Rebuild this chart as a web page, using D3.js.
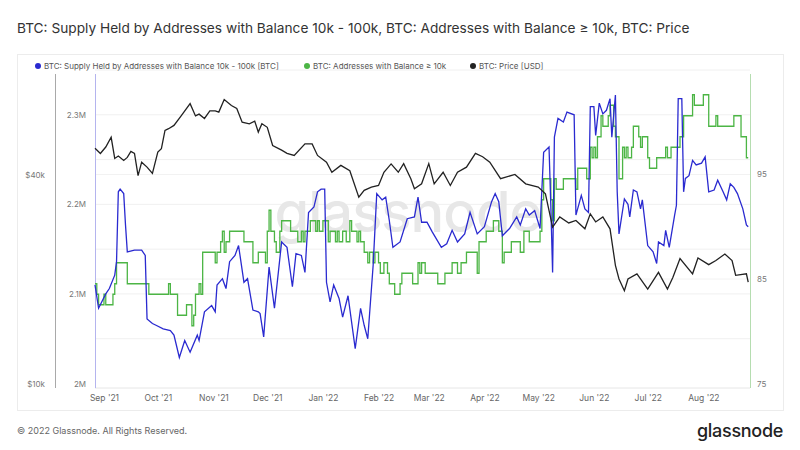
<!DOCTYPE html>
<html>
<head>
<meta charset="utf-8">
<script src="https://cdn.jsdelivr.net/npm/d3@7"></script>
<style>
  body { margin: 0; background: #fff; }
  svg { font-family: Inter, "Noto Sans", sans-serif; }
</style>
</head>
<body>
<div id="chart"></div>
<script>
// BTC price, thousands of USD (left log axis)
const priceDates = ["2021-08-27","2021-08-30","2021-09-02","2021-09-05","2021-09-07","2021-09-09","2021-09-12","2021-09-14","2021-09-16","2021-09-18","2021-09-20","2021-09-22","2021-09-25","2021-09-28","2021-10-01","2021-10-03","2021-10-05","2021-10-07","2021-10-10","2021-10-14","2021-10-19","2021-10-22","2021-10-24","2021-10-27","2021-10-30","2021-11-02","2021-11-04","2021-11-07","2021-11-11","2021-11-14","2021-11-17","2021-11-21","2021-11-24","2021-11-26","2021-11-28","2021-12-01","2021-12-04","2021-12-09","2021-12-12","2021-12-16","2021-12-22","2021-12-26","2021-12-29","2022-01-03","2022-01-06","2022-01-11","2022-01-16","2022-01-21","2022-01-24","2022-01-28","2022-02-01","2022-02-04","2022-02-08","2022-02-12","2022-02-15","2022-02-19","2022-02-21","2022-02-25","2022-03-01","2022-03-04","2022-03-09","2022-03-13","2022-03-17","2022-03-22","2022-03-27","2022-03-31","2022-04-04","2022-04-10","2022-04-18","2022-04-24","2022-05-01","2022-05-05","2022-05-09","2022-05-13","2022-05-18","2022-05-22","2022-05-27","2022-05-30","2022-06-02","2022-06-06","2022-06-10","2022-06-13","2022-06-15","2022-06-18","2022-06-20","2022-06-25","2022-07-01","2022-07-07","2022-07-12","2022-07-15","2022-07-19","2022-07-26","2022-07-29","2022-08-04","2022-08-08","2022-08-13","2022-08-17","2022-08-19","2022-08-25","2022-08-26"];
const priceValues = [47.6,46.0,48.0,51.2,44.5,45.2,43.9,44.8,46.6,46.0,39.7,43.4,42.0,40.3,46.4,47.5,53.6,54.2,55.4,59.0,64.0,59.0,59.7,58.0,61.0,61.0,60.5,65.8,63.2,62.0,56.6,56.0,57.0,53.0,56.0,54.7,48.5,47.0,46.0,45.4,49.0,49.0,45.4,43.4,40.6,42.5,41.0,34.4,36.0,36.8,37.2,40.6,42.9,40.6,43.0,38.9,36.4,37.6,43.0,37.6,40.6,37.2,40.6,42.0,46.0,45.0,43.4,38.9,40.0,37.6,36.8,35.2,28.2,30.2,29.0,29.5,27.9,30.8,29.2,30.2,27.9,21.9,20.0,18.5,20.0,20.7,18.7,20.9,18.7,20.2,22.9,20.7,23.0,22.0,22.6,23.6,22.6,20.5,20.7,19.6];

// supply held by 10k-100k addresses, millions of BTC (inner left axis)
const supplyDates = ["2021-08-27","2021-08-29","2021-09-02","2021-09-04","2021-09-07","2021-09-08","2021-09-09","2021-09-10","2021-09-12","2021-09-13","2021-09-14","2021-09-18","2021-09-22","2021-09-24","2021-09-25","2021-09-28","2021-09-30","2021-10-04","2021-10-08","2021-10-10","2021-10-13","2021-10-16","2021-10-19","2021-10-23","2021-10-24","2021-10-27","2021-10-31","2021-11-02","2021-11-03","2021-11-06","2021-11-08","2021-11-10","2021-11-13","2021-11-15","2021-11-18","2021-11-20","2021-11-23","2021-11-26","2021-11-27","2021-11-29","2021-12-02","2021-12-05","2021-12-09","2021-12-12","2021-12-15","2021-12-17","2021-12-20","2021-12-22","2021-12-24","2021-12-27","2021-12-29","2021-12-31","2022-01-02","2022-01-03","2022-01-05","2022-01-07","2022-01-10","2022-01-12","2022-01-15","2022-01-19","2022-01-22","2022-01-24","2022-01-26","2022-01-29","2022-01-31","2022-02-03","2022-02-05","2022-02-07","2022-02-09","2022-02-13","2022-02-17","2022-02-21","2022-02-23","2022-02-25","2022-02-28","2022-03-03","2022-03-08","2022-03-11","2022-03-14","2022-03-17","2022-03-21","2022-03-24","2022-03-28","2022-04-01","2022-04-05","2022-04-07","2022-04-09","2022-04-11","2022-04-15","2022-04-19","2022-04-21","2022-04-24","2022-04-26","2022-04-29","2022-05-02","2022-05-04","2022-05-07","2022-05-08","2022-05-09","2022-05-10","2022-05-12","2022-05-15","2022-05-17","2022-05-21","2022-05-22","2022-05-25","2022-05-27","2022-05-29","2022-05-30","2022-06-01","2022-06-02","2022-06-04","2022-06-06","2022-06-08","2022-06-10","2022-06-11","2022-06-13","2022-06-14","2022-06-15","2022-06-18","2022-06-20","2022-06-21","2022-06-23","2022-06-25","2022-06-27","2022-06-28","2022-07-01","2022-07-04","2022-07-06","2022-07-07","2022-07-10","2022-07-11","2022-07-13","2022-07-16","2022-07-17","2022-07-18","2022-07-20","2022-07-21","2022-07-22","2022-07-24","2022-07-26","2022-07-28","2022-07-31","2022-08-02","2022-08-04","2022-08-07","2022-08-09","2022-08-12","2022-08-14","2022-08-16","2022-08-18","2022-08-20","2022-08-23","2022-08-25","2022-08-26"];
const supplyValues = [2.110,2.084,2.100,2.106,2.121,2.136,2.214,2.217,2.212,2.177,2.147,2.149,2.149,2.143,2.072,2.067,2.065,2.061,2.059,2.054,2.029,2.048,2.035,2.054,2.048,2.080,2.087,2.080,2.110,2.117,2.106,2.136,2.143,2.154,2.113,2.117,2.082,2.080,2.078,2.052,2.130,2.084,2.158,2.152,2.108,2.145,2.143,2.124,2.191,2.197,2.214,2.217,2.217,2.113,2.091,2.110,2.095,2.074,2.098,2.039,2.084,2.065,2.050,2.132,2.212,2.205,2.208,2.182,2.152,2.158,2.184,2.186,2.208,2.180,2.180,2.169,2.152,2.156,2.171,2.158,2.167,2.191,2.167,2.175,2.203,2.212,2.203,2.165,2.173,2.186,2.177,2.195,2.188,2.193,2.173,2.258,2.264,2.199,2.124,2.275,2.296,2.292,2.303,2.300,2.188,2.210,2.195,2.191,2.309,2.309,2.277,2.313,2.301,2.305,2.318,2.275,2.322,2.214,2.167,2.206,2.200,2.186,2.216,2.214,2.195,2.205,2.154,2.147,2.134,2.158,2.154,2.171,2.152,2.188,2.199,2.318,2.318,2.214,2.229,2.232,2.249,2.244,2.246,2.253,2.214,2.216,2.227,2.214,2.205,2.223,2.219,2.212,2.195,2.177,2.175];

// number of addresses holding >= 10k BTC (right axis), step changes
const addrDates = ["2021-08-27","2021-08-28","2021-08-29","2021-09-01","2021-09-02","2021-09-06","2021-09-07","2021-09-08","2021-09-14","2021-09-26","2021-10-07","2021-10-08","2021-10-12","2021-10-17","2021-10-20","2021-10-21","2021-10-22","2021-10-24","2021-10-25","2021-10-26","2021-11-02","2021-11-03","2021-11-05","2021-11-06","2021-11-07","2021-11-08","2021-11-10","2021-11-18","2021-11-23","2021-11-26","2021-11-30","2021-12-01","2021-12-02","2021-12-03","2021-12-05","2021-12-06","2021-12-08","2021-12-09","2021-12-14","2021-12-18","2021-12-20","2021-12-21","2021-12-22","2021-12-25","2021-12-28","2021-12-29","2021-12-30","2022-01-01","2022-01-04","2022-01-05","2022-01-08","2022-01-09","2022-01-10","2022-01-12","2022-01-14","2022-01-16","2022-01-17","2022-01-20","2022-01-21","2022-01-22","2022-01-24","2022-01-26","2022-01-27","2022-01-29","2022-01-30","2022-02-01","2022-02-02","2022-02-04","2022-02-06","2022-02-07","2022-02-10","2022-02-13","2022-02-14","2022-02-20","2022-02-23","2022-02-24","2022-02-25","2022-02-27","2022-03-06","2022-03-10","2022-03-14","2022-03-17","2022-03-19","2022-03-22","2022-03-28","2022-03-29","2022-04-02","2022-04-06","2022-04-09","2022-04-11","2022-04-12","2022-04-16","2022-04-21","2022-04-23","2022-04-26","2022-05-02","2022-05-03","2022-05-04","2022-05-08","2022-05-09","2022-05-10","2022-05-11","2022-05-15","2022-05-22","2022-05-23","2022-05-28","2022-05-30","2022-05-31","2022-06-01","2022-06-02","2022-06-03","2022-06-05","2022-06-06","2022-06-09","2022-06-10","2022-06-12","2022-06-13","2022-06-15","2022-06-17","2022-06-18","2022-06-19","2022-06-20","2022-06-22","2022-06-23","2022-06-26","2022-06-27","2022-06-28","2022-07-01","2022-07-02","2022-07-06","2022-07-11","2022-07-12","2022-07-14","2022-07-19","2022-07-21","2022-07-26","2022-07-27","2022-08-01","2022-08-04","2022-08-08","2022-08-09","2022-08-18","2022-08-22","2022-08-25","2022-08-26"];
const addrValues = [84.5,83.5,82.5,83.5,82.5,83.5,84.5,86.5,84.5,83.5,84.5,83.5,81.5,82.5,80.5,81.5,83.5,84.5,83.5,87.5,86.5,87.5,88.5,89.5,87.5,88.5,89.5,88.5,86.5,87.5,86.5,89.5,91.5,89.5,88.5,87.5,89.5,90.5,89.5,88.5,89.5,88.5,89.5,90.5,89.5,90.5,89.5,90.5,88.5,89.5,88.5,89.5,88.5,89.5,88.5,90.5,89.5,88.5,89.5,88.5,87.5,86.5,87.5,86.5,87.5,86.5,85.5,86.5,85.5,84.5,83.5,84.5,85.5,84.5,86.5,85.5,86.5,85.5,84.5,85.5,86.5,85.5,86.5,87.5,85.5,88.5,89.5,90.5,89.5,86.5,87.5,88.5,87.5,89.5,88.5,89.5,92.5,94.5,92.5,90.5,94.5,93.5,94.5,93.5,95.5,94.5,97.5,96.5,97.5,96.5,98.5,100.5,99.5,100.5,101.5,99.5,98.5,94.5,97.5,96.5,97.5,96.5,97.5,99.5,98.5,97.5,98.5,96.5,95.5,96.5,97.5,96.5,97.5,98.5,100.5,102.5,101.5,102.5,99.5,100.5,99.5,100.5,98.5,96.5,96.5];

const supplyTicks = [2.0, 2.1, 2.2, 2.3];
const priceTicks = [10000, 40000];
const addrTicks = [75, 85, 95];

const W = 800, H = 450;
const plotL = 95, plotR = 750, plotT = 70, plotB = 383.5;
const parse = d3.utcParse("%Y-%m-%d");

const svg = d3.select("#chart").append("svg").attr("width", W).attr("height", H);

// title
svg.append("text").attr("x", 17).attr("y", 33)
  .attr("font-size", 13.7).attr("fill", "#333")
  .text("BTC: Supply Held by Addresses with Balance 10k - 100k, BTC: Addresses with Balance \u2265 10k, BTC: Price");

// card frame
svg.append("rect").attr("x", 17.5).attr("y", 54.5).attr("width", 766).attr("height", 356)
  .attr("fill", "none").attr("stroke", "#ececec");

const x = d3.scaleTime()
  .domain([Date.UTC(2021, 7, 27), Date.UTC(2022, 7, 27)])
  .range([plotL, plotR]);
const ySupply = d3.scaleLinear().domain([2.0, 2.35]).range([plotB, plotT]);
const yPrice = d3.scaleLog().domain([10000, 80000]).range([plotB, plotT]);
const yAddr = d3.scaleLinear().domain([75, 105]).range([plotB, plotB - 315]);

// grid
const grid = svg.append("g");
grid.selectAll("line.gs").data(d3.range(2.05, 2.351, 0.05)).join("line")
  .attr("x1", plotL).attr("x2", plotR)
  .attr("y1", d => ySupply(d)).attr("y2", d => ySupply(d))
  .attr("stroke", "#f0f0f0");
grid.selectAll("line.gp").data([20000, 40000]).join("line")
  .attr("x1", plotL).attr("x2", plotR)
  .attr("y1", d => yPrice(d)).attr("y2", d => yPrice(d))
  .attr("stroke", "#f2f2f2");
svg.append("line").attr("x1", plotL).attr("x2", plotR).attr("y1", 388).attr("y2", 388)
  .attr("stroke", "#e6e6e6");

// watermark
svg.append("text").attr("x", 408).attr("y", 232).attr("text-anchor", "middle")
  .attr("font-size", 56).attr("font-weight", 500).attr("fill", "#e7e7e7")
  .attr("letter-spacing", -1).text("glassnode");

// axis lines
svg.append("line").attr("x1", 55.5).attr("x2", 55.5).attr("y1", 74).attr("y2", 388).attr("stroke", "#a9a9a9");
svg.append("line").attr("x1", 95.5).attr("x2", 95.5).attr("y1", 74).attr("y2", 388).attr("stroke", "#b4b4ee");
svg.append("line").attr("x1", 750.5).attr("x2", 750.5).attr("y1", 74).attr("y2", 388).attr("stroke", "#b5ddb0");

function styleAxis(g) {
  g.select(".domain").remove();
  g.selectAll("text").attr("fill", "#777").attr("font-size", 8).attr("font-family", "Inter, sans-serif");
}

svg.append("g").attr("transform", "translate(48,0)")
  .call(d3.axisLeft(yPrice).tickValues(priceTicks).tickSize(0).tickPadding(3)
    .tickFormat(d => "$" + d / 1000 + "k"))
  .call(styleAxis);

svg.append("g").attr("transform", "translate(89,0)")
  .call(d3.axisLeft(ySupply).tickValues(supplyTicks).tickSize(0).tickPadding(3)
    .tickFormat(d => d3.format(".2~f")(d) + "M"))
  .call(styleAxis);

svg.append("g").attr("transform", "translate(754,0)")
  .call(d3.axisRight(yAddr).tickValues(addrTicks).tickSize(0).tickPadding(3))
  .call(styleAxis);

svg.append("g").attr("transform", "translate(0,392)")
  .call(d3.axisBottom(x).tickValues(d3.utcMonth.range(Date.UTC(2021, 8, 1), Date.UTC(2022, 7, 2)))
    .tickSize(0).tickPadding(3).tickFormat(d3.utcFormat("%b '%y")))
  .call(styleAxis)
  .selectAll("text").attr("font-size", 8.5).attr("fill", "#666");

// series
const price = priceDates.map((d, i) => ({ date: parse(d), v: priceValues[i] * 1000 }));
const supply = supplyDates.map((d, i) => ({ date: parse(d), v: supplyValues[i] }));
const addr = addrDates.map((d, i) => ({ date: parse(d), v: addrValues[i] }));
const ok = d => d.v != null && !isNaN(d.v);

svg.append("path").datum(addr)
  .attr("fill", "none").attr("stroke", "#4cb545").attr("stroke-width", 1.3)
  .attr("d", d3.line().defined(ok).curve(d3.curveStepAfter).x(d => x(d.date)).y(d => yAddr(d.v)));

svg.append("path").datum(supply)
  .attr("fill", "none").attr("stroke", "#2a2ad0").attr("stroke-width", 1.3)
  .attr("d", d3.line().defined(ok).x(d => x(d.date)).y(d => ySupply(d.v)));

svg.append("path").datum(price)
  .attr("fill", "none").attr("stroke", "#222").attr("stroke-width", 1.3)
  .attr("d", d3.line().defined(ok).x(d => x(d.date)).y(d => yPrice(d.v)));

// legend
const legend = [
  { name: "BTC: Supply Held by Addresses with Balance 10k - 100k [BTC]", color: "#2a2ad0", x: 38 },
  { name: "BTC: Addresses with Balance \u2265 10k", color: "#4cb545", x: 307 },
  { name: "BTC: Price [USD]", color: "#222", x: 473 }
];
const lg = svg.append("g").selectAll("g").data(legend).join("g")
  .attr("transform", d => `translate(${d.x},66)`);
lg.append("circle").attr("r", 3).attr("fill", d => d.color);
lg.append("text").attr("x", 6).attr("y", 3).attr("font-size", 8).attr("fill", "#555").text(d => d.name);

// footer
svg.append("text").attr("x", 17).attr("y", 434).attr("font-size", 9).attr("fill", "#666")
  .text("\u00a9 2022 Glassnode. All Rights Reserved.");
svg.append("text").attr("x", 783).attr("y", 437).attr("text-anchor", "end")
  .attr("font-size", 18).attr("font-weight", 500).attr("fill", "#222").attr("letter-spacing", -0.3)
  .text("glassnode");
</script>
</body>
</html>
